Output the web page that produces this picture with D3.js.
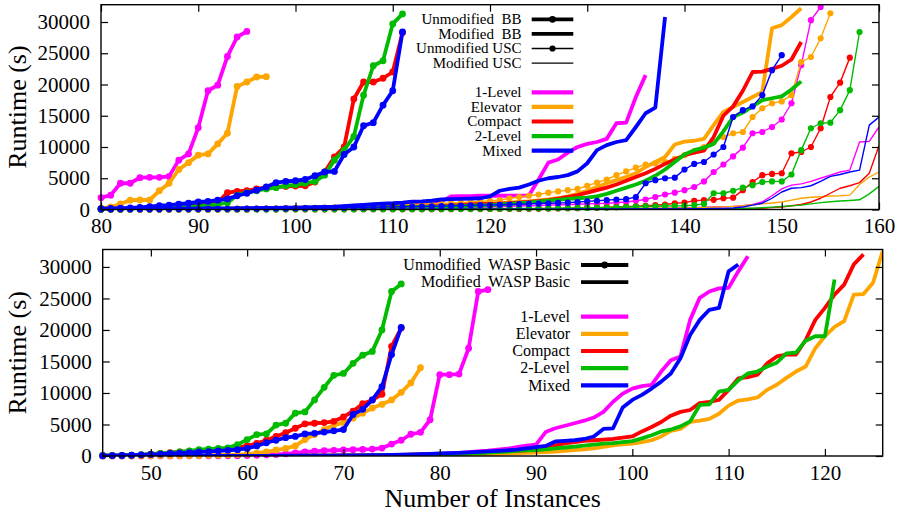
<!DOCTYPE html>
<html>
<head>
<meta charset="utf-8">
<script src="https://cdn.jsdelivr.net/npm/d3@7"></script>
<style>
  body { margin: 0; background: #fff; }
  text { font-family: "Liberation Serif", "Times New Roman", serif; fill: #000; }
</style>
</head>
<body>
<div id="chart"></div>
<script>
// ---- data ----
const methods = ["1-Level", "Elevator", "Compact", "2-Level", "Mixed"];
const methodColors = ["#ff00ff", "#ffa500", "#ff0000", "#00bb00", "#0000ff"];
const yTicks = [0, 5000, 10000, 15000, 20000, 25000, 30000];
const topXTicks = [80, 90, 100, 110, 120, 130, 140, 150, 160];
const botXTicks = [50, 60, 70, 80, 90, 100, 110, 120];
const topStart = 80;   // first instance count in the top arrays
const botStart = 45;   // first instance count in the bottom arrays

// top panel: BB / USC
const bbUnmod1Level = [1900,2300,4200,4200,5100,5150,5150,5300,7900,8900,13100,19000,19900,24500,27600,28500];
const bbUnmodElevator = [190,400,880,1500,1520,1520,3000,4200,6400,7500,8700,8900,10500,12200,19700,20400,21200,21250];
const bbUnmodCompact = [50,70,100,150,200,270,350,420,500,650,800,950,1100,2700,2900,3000,3300,3500,3600,3700,
  3750,3800,4400,6000,8400,10000,17700,20400,20400,21000,22000,28300];
const bbUnmod2Level = [40,50,70,100,130,170,220,280,350,450,550,650,800,1100,2300,2700,3000,3300,3500,3800,
  3950,4200,4500,5500,7900,9500,11700,18300,23000,23800,29700,31300];
const bbUnmodMixed = [150,170,200,260,330,450,600,700,850,1000,1200,1300,1500,1700,2200,2600,3100,3600,4300,4500,
  4600,4800,5400,6000,6100,8800,10000,13400,13900,16700,19000,28400];

const bbMod1Level = [20,20,25,25,30,30,35,40,40,45, 50,55,60,70,80,90,100,110,120,140,
  160,180,200,230,260,300,340,390,450,520, 600,700,800,950,1100,1300,2100,2150,2150,2200,
  2200,2200,2200,2200,2250,4800,7500,8000,9100,10000, 10500,10800,11300,13800,13900,18000,21500];
const bbModElevator = [30,35,40,45,50,55,60,70,80,90, 100,110,120,130,150,170,190,210,230,250,
  280,300,330,360,390,420,450,480,510,540, 570,600,640,680,720,760,800,840,870,900,
  950,1000,1100,1200,1300,1450,1600,1800,2100,2500, 3000,3600,4200,4700,5200,5800,6800,7600,8400,10400,
  10850,11000,11300,13500,15600,16400,17200,18000,18800,29000, 29500,30800,32200];
const bbModCompact = [25,30,35,40,45,50,55,60,70,80, 90,100,110,120,130,140,150,160,170,180,
  190,200,210,220,240,260,280,300,320,340, 360,390,420,450,500,550,600,700,800,850,
  900,950,1000,1100,1200,1350,1500,1750,2000,2300, 2700,3100,3500,4000,4600,5200,5800,6500,7300,8000,
  8700,9100,9400,11600,15000,16500,19000,22000,22050,22500, 23000,24000,26800];
const bbMod2Level = [20,25,30,35,40,45,50,55,60,70, 80,90,100,110,120,130,140,150,160,170,
  180,190,200,210,220,240,260,280,300,320, 340,360,380,400,430,460,500,550,600,650,
  700,800,900,1000,1100,1250,1400,1550,1700,1800, 1900,2100,2500,3000,3500,4000,4600,5400,6400,7600,
  8800,9500,9900,10500,12500,14800,15500,16500,17500,17800, 18100,19200,20500];
const bbModMixed = [50,55,60,70,80,90,100,110,120,130, 150,160,170,180,190,200,220,240,260,280,
  300,330,360,400,450,550,650,750,850,950, 1000,1100,1250,1300,1400,1600,1650,1700,1750,1800,
  2100,3000,3300,3500,4000,4600,5000,5200,5500,6100, 7400,9500,10300,10800,11100,13200,15400,16300,30800];

const uscUnmod1Level = [10,10,15,15,20,20,25,25,30,30, 35,35,40,45,50,55,60,65,70,75,
  80,90,100,110,120,130,140,150,160,170, 180,200,220,240,260,280,300,320,340,370,
  400,450,500,550,600,650,700,750,800,850, 900,950,1000,1100,1200,1400,1600,2000,2400,2700,
  3100,3600,4500,6000,7200,8500,9900,12200,12400,13200, 14400,17000,23100,30300,32400];
const uscUnmodElevator = [20,25,30,35,40,45,50,60,70,80, 90,100,110,120,130,140,150,170,190,210,
  230,250,270,300,330,360,400,440,480,520, 560,600,650,700,800,900,1000,1100,1200,1300,
  1400,1500,1800,2000,2200,2400,2700,2900,3100,3300, 3800,4300,4800,5500,6100,6700,7200,7400,7600,8100,
  8700,9300,10000,10800,11600,12200,12400,14800,16200,17000, 17300,18300,23600,24400,27400,31400];
const uscUnmodCompact = [5,5,5,5,10,10,10,10,10,15, 15,15,15,20,20,20,20,25,25,25,
  30,30,30,35,35,35,40,40,40,45, 45,50,50,55,55,60,60,65,70,75,
  80,85,90,100,110,120,150,170,200,220, 250,300,350,400,450,520,600,700,800,1000,
  1100,1400,1500,1550,1800,1900,3100,4400,5500,5700, 5800,9000,9200,10000,13000,18000,20300,24300];
const uscUnmod2Level = [5,5,5,5,5,10,10,10,10,10, 10,15,15,15,15,20,20,20,20,25,
  25,25,30,30,30,35,35,40,40,45, 45,50,55,60,65,70,80,90,100,110,
  120,130,140,150,160,170,180,200,220,240, 260,280,300,350,400,450,500,520,550,580,
  600,700,900,2600,2600,3000,3500,3900,4400,4500, 4500,5600,9500,13000,13800,13900,15900,19100,28400];
const uscUnmodMixed = [30,35,40,45,50,55,60,65,70,75, 80,90,100,110,120,130,140,150,160,180,
  200,220,240,260,280,300,320,340,370,400, 420,440,460,480,500,540,580,620,660,700,
  700,750,800,850,900,950,1000,1050,1100,1200, 1300,1400,1500,1600,1650,2000,4200,4700,5000,5100,
  6400,7300,7600,8800,10000,14800,15900,16500,18300,22300, 24700];

const uscMod1Level = [5,5,5,5,5,5,5,5,5,5, 10,10,10,10,10,10,10,10,15,15,
  15,15,15,15,20,20,20,20,25,25, 25,30,30,30,35,35,40,40,45,45,
  50,55,60,65,70,75,80,90,100,110, 120,130,140,150,160,170,180,200,220,250,
  280,300,350,400,450,500,600,800,1200,2200, 3300,3900,4100,4500,5000,5500,6000,6300,10800,10900, 13200];
const uscModElevator = [5,5,5,5,5,5,5,5,10,10, 10,10,10,10,10,15,15,15,15,15,
  20,20,20,20,25,25,25,30,30,30, 35,35,40,40,45,45,50,55,60,65,
  70,75,80,85,90,95,100,110,120,130, 140,150,160,170,180,190,200,200,200,200,
  200,250,300,350,420,500,600,750,900,1050, 1200,1500,1800,1950,2050,2150,2200,2300,4000,5200, 6000];
const uscModCompact = [5,5,5,5,5,5,5,5,5,5, 5,5,5,5,10,10,10,10,10,10,
  10,10,15,15,15,15,15,20,20,20, 20,25,25,25,30,30,30,35,35,40,
  40,42,45,48,50,52,55,58,60,62, 65,68,70,72,75,78,80,80,80,80,
  80,90,100,110,120,140,160,180,200,300, 400,600,800,1200,1800,2600,3400,3800,4300,5800, 10200];
const uscMod2Level = [5,5,5,5,5,5,5,5,5,5, 5,5,5,5,5,10,10,10,10,10,
  10,10,10,15,15,15,15,15,20,20, 20,20,25,25,25,25,30,30,30,30,
  30,32,34,35,36,38,40,41,42,43, 44,45,46,47,48,49,50,50,50,50,
  50,55,60,70,80,100,150,200,280,380, 480,580,700,900,1100,1250,1350,1450,1550,2500, 3700];
const uscModMixed = [5,5,5,5,5,5,5,5,10,10, 10,10,10,10,10,15,15,15,15,15,
  20,20,20,20,25,25,25,30,30,30, 35,35,35,40,40,40,45,45,50,50,
  50,52,55,58,60,62,65,68,70,72, 75,78,80,82,84,86,88,90,95,100,
  100,120,140,160,180,250,400,700,1000,1800, 2800,3400,3500,3800,4500,5300,5600,6000,6300,13500, 14800];

// bottom panel: WASP Basic
const waspUnmod1Level = [5,5,5,5,10,10,10,15,15,20, 20,25,30,40,50,80,120,180,250,350,
  500,650,750,850,900,950,1000,1050,1100,1250, 1900,2500,3450,3750,5750,12900,12900,13000,17100,26100, 26400];
const waspUnmodElevator = [10,10,15,15,20,25,30,40,50,60, 80,100,130,170,220,300,450,650,950,1200,
  1600,2600,3400,4200,4900,5300,6000,6800,7600,8200, 8900,10100,11600,14000];
const waspUnmodCompact = [50,60,80,100,150,300,400,550,650,750, 850,950,1050,1200,1350,1600,2000,2500,3100,3700,
  4400,5100,5200,5300,5500,6200,7100,8300,8900,9800, 17400,20300];
const waspUnmod2Level = [60,80,100,150,200,300,400,500,650,800, 1000,1100,1200,1300,1800,2600,3400,3500,4900,5200,
  6800,7000,8900,10900,12800,13100,14700,16000,16600,20000, 26100,27300];
const waspUnmodMixed = [40,60,80,120,180,250,300,400,450,550, 650,700,800,900,1000,1200,1600,2100,2500,2900,
  3100,3500,3600,3800,4000,4200,6600,7400,8900,11000, 16100,20400];

const waspMod1Level = [5,5,5,5,5,5,10,10,10,10, 10,15,15,15,20,20,20,25,25,30,
  30,35,40,45,50,55,60,70,80,90, 100,130,170,220,280,350,420,500,600,750,
  850,1000,1150,1400,1650,1800,3800,4400,4800,5200, 5600,6100,7000,8600,9900,10700,11100,11300,13400,15200,
  15800,21600,25100,26100,26600,26700,29300,31700];
const waspModElevator = [5,5,5,5,5,5,5,10,10,10, 10,10,15,15,15,20,20,20,25,25,
  30,30,35,35,40,40,50,55,60,70, 80,90,100,120,130,150,180,210,240,270,
  300,350,400,450,500,550,600,700,800,950, 1050,1200,1450,1700,1850,1950,2200,2500,3100,4000,
  4300,5400,5600,5900,6700,8000,8800,9000,9300,10500, 11300,12400,13400,14200,17100,19000,20500,21400,25600,25700,
  27500,32500];
const waspModCompact = [5,5,5,5,5,10,10,10,10,15, 15,15,20,20,20,25,25,30,30,35,
  40,45,50,55,60,70,80,90,100,120, 150,180,210,240,270,300,350,400,450,500,
  600,700,800,850,900,1200,1400,1700,2000,2200, 2400,2500,2600,2700,2900,3100,3900,4600,5400,6400,
  7000,7300,8400,8600,8900,10500,12300,12500,12900,14700, 15800,16100,16100,18400,21600,23500,25600,27200,30400,32000];
const waspMod2Level = [5,5,5,5,5,10,10,10,10,10, 15,15,15,20,20,20,25,25,30,30,
  35,40,45,50,55,60,70,80,90,100, 120,140,170,200,230,250,300,350,400,450,
  520,600,700,800,900,950,1050,1200,1350,1500, 1650,1800,1950,2050,2200,2350,2800,3300,3900,4200,
  4700,5500,8100,8200,10200,10500,12000,13100,13400,14200, 14800,16300,16400,18300,19000,19000,28000];
const waspModMixed = [5,5,5,5,5,10,10,10,10,15, 15,15,20,20,20,25,25,30,35,40,
  45,50,55,60,70,80,90,100,120,140, 170,200,240,280,330,400,450,500,580,650,
  720,800,900,1000,1200,1400,1600,2300,2400,2500, 2700,3100,4300,4400,7700,8900,9700,10700,11800,13100,
  15500,19200,21600,23200,23500,29300,30400];

// ---- drawing ----
const W = 902, H = 513;
const yMax = 32768;
const svg = d3.select("#chart").append("svg").attr("width", W).attr("height", H);
svg.append("rect").attr("width", W).attr("height", H).attr("fill", "#fff");

const styles = {
  thickPts: { w: 3.8, r: 3.4 },
  thick:    { w: 3.8, r: 0 },
  thinPts:  { w: 1.4, r: 3.1 },
  thin:     { w: 1.4, r: 0 }
};

const panels = [
  {
    id: "top", left: 101, right: 879, top: 4.7, bottom: 209.5,
    xDomain: [80, 160], xTicks: topXTicks, start: topStart,
    groups: [
      { style: "thickPts", arrays: [bbUnmod1Level, bbUnmodElevator, bbUnmodCompact, bbUnmod2Level, bbUnmodMixed] },
      { style: "thick",    arrays: [bbMod1Level, bbModElevator, bbModCompact, bbMod2Level, bbModMixed] },
      { style: "thinPts",  arrays: [uscUnmod1Level, uscUnmodElevator, uscUnmodCompact, uscUnmod2Level, uscUnmodMixed] },
      { style: "thin",     arrays: [uscMod1Level, uscModElevator, uscModCompact, uscMod2Level, uscModMixed] }
    ],
    legend: {
      xText: 521.5, x0: 531.7, x1: 573.3, y0: 19.3, dy: 14.6, size: 15,
      rows: [["Unmodified  BB", "thickPts"], ["Modified  BB", "thick"], ["Unmodified USC", "thinPts"], ["Modified USC", "thin"]],
      gap: 1
    }
  },
  {
    id: "bot", left: 102.7, right: 882.7, top: 249.5, bottom: 456,
    xDomain: [45, 126], xTicks: botXTicks, start: botStart,
    groups: [
      { style: "thickPts", arrays: [waspUnmod1Level, waspUnmodElevator, waspUnmodCompact, waspUnmod2Level, waspUnmodMixed] },
      { style: "thick",    arrays: [waspMod1Level, waspModElevator, waspModCompact, waspMod2Level, waspModMixed] }
    ],
    legend: {
      xText: 570, x0: 581, x1: 628.3, y0: 265, dy: 17.2, size: 16,
      rows: [["Unmodified  WASP Basic", "thickPts"], ["Modified  WASP Basic", "thick"]],
      gap: 1
    }
  }
];

panels.forEach(p => {
  const x = d3.scaleLinear().domain(p.xDomain).range([p.left, p.right]);
  const y = d3.scaleLinear().domain([0, yMax]).range([p.bottom, p.top]);
  const line = d3.line().x(d => x(d[0])).y(d => y(d[1]));

  svg.append("clipPath").attr("id", "clip-" + p.id)
    .append("rect")
    .attr("x", p.left).attr("y", p.top)
    .attr("width", p.right - p.left).attr("height", p.bottom - p.top);

  const plot = svg.append("g");

  methods.forEach((m, i) => {
    p.groups.forEach(gr => {
      const st = styles[gr.style];
      const pts = gr.arrays[i].map((v, k) => [p.start + k, v]);
      plot.append("path")
        .datum(pts)
        .attr("d", line)
        .attr("clip-path", "url(#clip-" + p.id + ")")
        .attr("fill", "none")
        .attr("stroke", methodColors[i])
        .attr("stroke-width", st.w)
        .attr("stroke-linejoin", "round");
      if (st.r) {
        plot.append("g").selectAll("circle")
          .data(pts.filter(d => d[0] >= p.xDomain[0] && d[0] <= p.xDomain[1]))
          .join("circle")
          .attr("cx", d => x(d[0]))
          .attr("cy", d => y(d[1]))
          .attr("r", st.r)
          .attr("fill", methodColors[i]);
      }
    });
  });

  // axes (ticks inward, mirrored)
  const fontSize = 21;
  const fmt = d3.format("d");
  const ax = (gen, tx, ty, labels) => {
    const g = svg.append("g").attr("transform", `translate(${tx},${ty})`).call(gen.tickFormat(fmt));
    g.select(".domain").remove();
    g.selectAll(".tick line").attr("stroke", "#000").attr("stroke-width", 1.2);
    g.selectAll(".tick text").attr("font-size", fontSize)
      .attr("font-family", "Liberation Serif, serif").attr("fill", "#000");
    if (!labels) g.selectAll(".tick text").remove();
    return g;
  };
  ax(d3.axisBottom(x).tickValues(p.xTicks).tickSize(-7).tickPadding(9), 0, p.bottom, true);
  ax(d3.axisTop(x).tickValues(p.xTicks).tickSize(-7), 0, p.top, false);
  ax(d3.axisLeft(y).tickValues(yTicks).tickSize(-7).tickPadding(11), p.left, 0, true);
  ax(d3.axisRight(y).tickValues(yTicks).tickSize(-7), p.right, 0, false);

  svg.append("rect")
    .attr("x", p.left).attr("y", p.top)
    .attr("width", p.right - p.left).attr("height", p.bottom - p.top)
    .attr("fill", "none").attr("stroke", "#000").attr("stroke-width", 1.4);

  svg.append("text")
    .attr("transform", `translate(26,${(p.top + p.bottom) / 2}) rotate(-90)`)
    .attr("text-anchor", "middle")
    .attr("font-size", 26)
    .text("Runtime (s)");

  // legend
  const L = p.legend;
  const lg = svg.append("g");
  const rows = L.rows.map(r => ({ label: r[0], style: styles[r[1]], color: "#000" }))
    .concat(new Array(L.gap).fill(null))
    .concat(methods.map((m, i) => ({ label: m, style: { w: 4.2, r: 0 }, color: methodColors[i] })));
  rows.forEach((r, k) => {
    if (!r) return;
    const yy = L.y0 + k * L.dy;
    lg.append("text")
      .attr("x", L.xText).attr("y", yy).attr("dy", "0.33em")
      .attr("text-anchor", "end")
      .attr("font-size", L.size)
      .style("white-space", "pre")
      .text(r.label);
    lg.append("line")
      .attr("x1", L.x0).attr("x2", L.x1).attr("y1", yy).attr("y2", yy)
      .attr("stroke", r.color).attr("stroke-width", r.style.w);
    if (r.style.r) {
      lg.append("circle").attr("cx", (L.x0 + L.x1) / 2).attr("cy", yy)
        .attr("r", r.style.r).attr("fill", r.color);
    }
  });
});

svg.append("text")
  .attr("x", 492.7).attr("y", 507)
  .attr("text-anchor", "middle")
  .attr("font-size", 26)
  .text("Number of Instances");
</script>
</body>
</html>
